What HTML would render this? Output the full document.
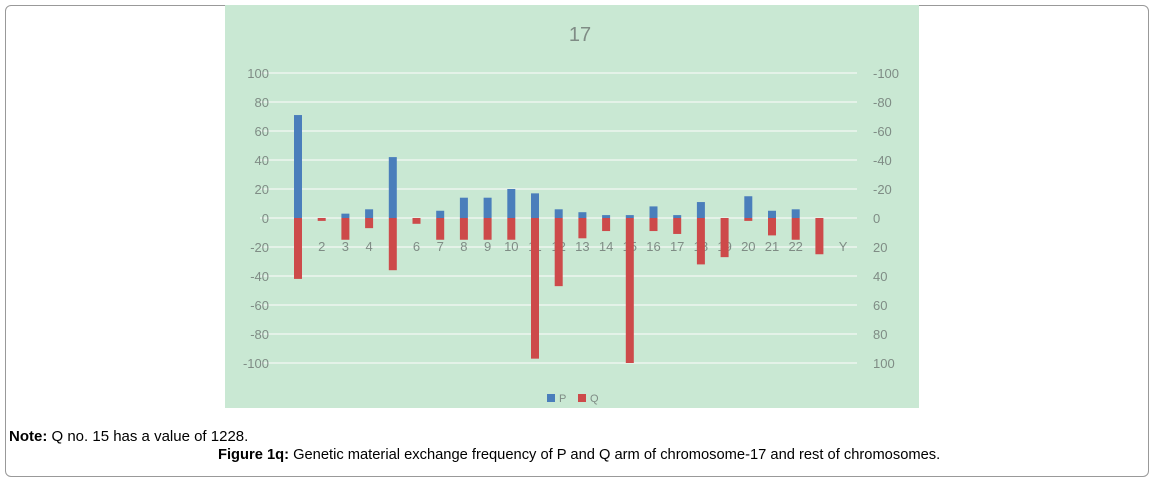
<!DOCTYPE html>
<html><head><meta charset="utf-8"><style>
body{margin:0;width:1153px;height:480px;background:#fff;font-family:"Liberation Sans",sans-serif;position:relative;overflow:hidden}
#frame{position:absolute;left:5px;top:5px;width:1142px;height:470px;border:1px solid #999;border-radius:6px}
#chart{position:absolute;left:225px;top:5px}
.note{position:absolute;color:#000;white-space:nowrap}
</style></head><body>
<div id="frame"></div>
<svg id="chart" width="694" height="403"></svg>
<div class="note" style="left:9px;top:428px;font-size:15px"><b>Note:</b> Q no. 15 has a value of 1228.</div>
<div class="note" style="left:218px;top:447px;font-size:14.7px"><b>Figure 1q:</b> Genetic material exchange frequency of P and Q arm of chromosome-17 and rest of chromosomes.</div>
<script>
const categories=["1","2","3","4","5","6","7","8","9","10","11","12","13","14","15","16","17","18","19","20","21","22","X","Y"];
const pValues=[71,0,3,6,42,0,5,14,14,20,17,6,4,2,2,8,2,11,0,15,5,6,0,0];
const qValues=[-42,-2,-15,-7,-36,-4,-15,-15,-15,-15,-97,-47,-14,-9,-100,-9,-11,-32,-27,-2,-12,-15,-25,0];
const leftTicks=["100","80","60","40","20","0","-20","-40","-60","-80","-100"];
const tickValues=[100,80,60,40,20,0,-20,-40,-60,-80,-100];
const rightTicks=["-100","-80","-60","-40","-20","0","20","40","60","80","100"];
const svg=document.getElementById('chart');const NS='http://www.w3.org/2000/svg';
function el(t,a,p){const e=document.createElementNS(NS,t);for(const k in a)e.setAttribute(k,a[k]);(p||svg).appendChild(e);return e;}
const y=v=>213-v*1.45;
const x=i=>73+i*23.7;
let r=el('rect',{x:0,y:0,width:694,height:403,fill:'#c9e8d3'});

let t=el('text',{x:355,y:36,'text-anchor':'middle','font-size':20,fill:'#7f8c85'});t.textContent='17';

tickValues.forEach((v,i)=>{
 let g=el('line',{x1:35,x2:632,y1:y(v),y2:y(v),stroke:'#e4f2e8','stroke-width':2});
 
 let a=el('text',{x:44,y:y(v)+5,'text-anchor':'end','font-size':13,fill:'#7f8c85'});a.textContent=leftTicks[i];
 
 let b=el('text',{x:648,y:y(v)+5,'font-size':13,fill:'#7f8c85'});b.textContent=rightTicks[i];
 
});
categories.forEach((c,i)=>{
 let l=el('text',{x:x(i),y:246,'text-anchor':'middle','font-size':13,fill:'#7f8c85'});l.textContent=c;
 
});
categories.forEach((c,i)=>{
 const cx=x(i);
 if(pValues[i]>0){let b=el('rect',{x:cx-4,y:y(pValues[i]),width:8,height:pValues[i]*1.45,fill:'#4a7ebb'});
 }
 if(qValues[i]<0){let b=el('rect',{x:cx-4,y:y(0),width:8,height:-qValues[i]*1.45,fill:'#cd4a4a'});
 }
});
let lp=el('rect',{x:322,y:389,width:8,height:8,fill:'#4a7ebb'});
let lpt=el('text',{x:334,y:397,'font-size':11,fill:'#7f8c85'});lpt.textContent='P';
let lq=el('rect',{x:353,y:389,width:8,height:8,fill:'#cd4a4a'});
let lqt=el('text',{x:365,y:397,'font-size':11,fill:'#7f8c85'});lqt.textContent='Q';
</script>
</body></html>
